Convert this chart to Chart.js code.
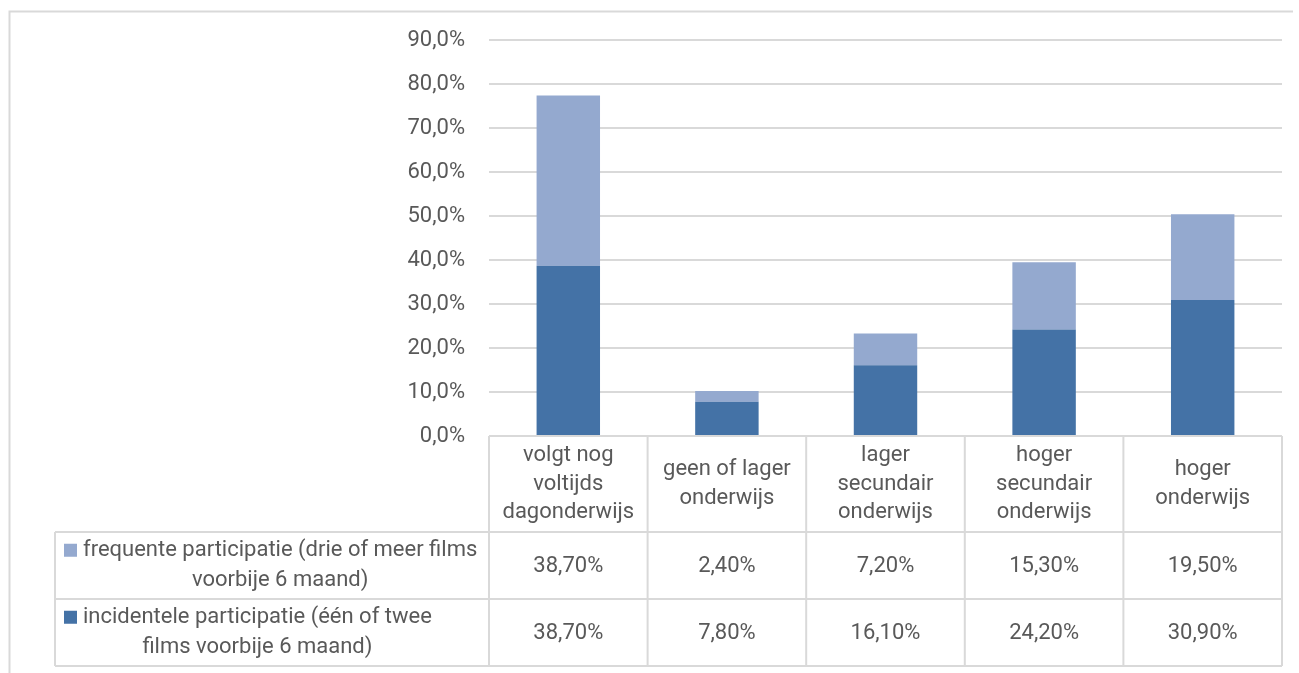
<!DOCTYPE html>
<html lang="nl">
<head>
  <meta charset="UTF-8">
  <title>Filmparticipatie naar onderwijs</title>
  <script src="https://cdn.jsdelivr.net/npm/chart.js"></script>
  <style>
    html, body {
      margin: 0;
      padding: 0;
      background: #ffffff;
    }
    #chart {
      display: block;
    }
  </style>
</head>
<body>
  <canvas id="chart" width="1299" height="673"></canvas>

  <script>
    // categorieen (met regelafbreking zoals in de tabel)
    const categories = [
      ['volgt nog', 'voltijds', 'dagonderwijs'],
      ['geen of lager', 'onderwijs'],
      ['lager', 'secundair', 'onderwijs'],
      ['hoger', 'secundair', 'onderwijs'],
      ['hoger', 'onderwijs']
    ];
    const incidenteel = [38.7, 7.8, 16.1, 24.2, 30.9];
    const frequent = [38.7, 2.4, 7.2, 15.3, 19.5];
    const seriesNames = [
      ['incidentele participatie (één of twee', 'films voorbije 6 maand)'],
      ['frequente participatie (drie of meer films', 'voorbije 6 maand)']
    ];
    const yTicks = [0, 10, 20, 30, 40, 50, 60, 70, 80, 90];

    const darkBlue = '#4472a6';
    const lightBlue = '#94a9cf';
    const textColor = '#595959';
    const lineColor = '#d9d9d9';
    const font = '22px Roboto';

    const fmtPct = v => v.toFixed(2).replace('.', ',') + '%';

    // rand rond de grafiek + datatabel onder de x-as
    const tablePlugin = {
      id: 'dataTable',
      beforeDraw(chart) {
        const ctx = chart.ctx;
        ctx.save();
        ctx.strokeStyle = lineColor;
        ctx.lineWidth = 2;
        ctx.beginPath();
        ctx.moveTo(9.5, 673);
        ctx.lineTo(9.5, 11.5);
        ctx.lineTo(1293, 11.5);
        ctx.stroke();
        ctx.restore();
      },
      afterDraw(chart) {
        const ctx = chart.ctx;
        const area = chart.chartArea;
        const xs = chart.scales.x;
        const n = categories.length;
        const colW = (area.right - area.left) / n;
        const top = area.bottom;
        const headBottom = top + 96;
        const rowH = 67;
        const tableLeft = 55;
        const rows = [
          { name: seriesNames[1], color: lightBlue, data: frequent },
          { name: seriesNames[0], color: darkBlue, data: incidenteel }
        ];
        const bottom = headBottom + rowH * rows.length;

        ctx.save();
        ctx.strokeStyle = lineColor;
        ctx.lineWidth = 2;
        ctx.beginPath();
        // horizontale lijnen
        ctx.moveTo(area.left, top);
        ctx.lineTo(area.right, top);
        for (let r = 0; r <= rows.length; r++) {
          const y = headBottom + r * rowH;
          ctx.moveTo(tableLeft, y);
          ctx.lineTo(area.right, y);
        }
        // verticale lijnen
        for (let i = 0; i <= n; i++) {
          const x = area.left + i * colW;
          ctx.moveTo(x, top);
          ctx.lineTo(x, bottom);
        }
        ctx.moveTo(tableLeft, headBottom);
        ctx.lineTo(tableLeft, bottom);
        ctx.stroke();

        ctx.fillStyle = textColor;
        ctx.font = font;
        ctx.textBaseline = 'middle';
        ctx.textAlign = 'center';

        // kolomkoppen
        const headLH = 28.5;
        categories.forEach((lines, i) => {
          const cx = xs.getPixelForValue(i);
          const cy = (top + headBottom) / 2;
          lines.forEach((ln, k) => {
            ctx.fillText(ln, cx, cy + (k - (lines.length - 1) / 2) * headLH);
          });
        });

        // rijen met legenda en waarden
        const rowLH = 29.5;
        rows.forEach((row, r) => {
          const y0 = headBottom + r * rowH;
          const cy = y0 + rowH / 2;
          const textLeft = 83;
          const maxW = Math.max(...row.name.map(s => ctx.measureText(s).width));
          row.name.forEach((ln, k) => {
            const ly = cy + (k - (row.name.length - 1) / 2) * rowLH;
            ctx.fillText(ln, textLeft + maxW / 2, ly);
            if (k === 0) {
              const w = ctx.measureText(ln).width;
              const sx = textLeft + maxW / 2 - w / 2 - 19;
              ctx.fillStyle = row.color;
              ctx.fillRect(sx, ly - 7, 13, 13);
              ctx.fillStyle = textColor;
            }
          });
          row.data.forEach((v, i) => {
            ctx.fillText(fmtPct(v), xs.getPixelForValue(i), cy + 1);
          });
        });
        ctx.restore();
      }
    };

    new Chart(document.getElementById('chart'), {
      type: 'bar',
      data: {
        labels: categories,
        datasets: [
          {
            label: seriesNames[0].join(' '),
            data: incidenteel,
            backgroundColor: darkBlue,
            barPercentage: 0.4,
            categoryPercentage: 1
          },
          {
            label: seriesNames[1].join(' '),
            data: frequent,
            backgroundColor: lightBlue,
            barPercentage: 0.4,
            categoryPercentage: 1
          }
        ]
      },
      plugins: [tablePlugin],
      options: {
        responsive: false,
        animation: false,
        devicePixelRatio: 1,
        layout: {
          padding: { left: 0, right: 17, top: 40, bottom: 237 }
        },
        plugins: {
          legend: { display: false },
          tooltip: { enabled: false }
        },
        scales: {
          x: {
            stacked: true,
            display: false
          },
          y: {
            stacked: true,
            min: 0,
            max: 90,
            afterFit(scale) { scale.width = 489; },
            afterBuildTicks(scale) { scale.ticks = yTicks.map(v => ({ value: v })); },
            border: { display: false },
            grid: {
              color: lineColor,
              lineWidth: 2,
              drawTicks: false
            },
            ticks: {
              padding: 24,
              color: textColor,
              font: { family: 'Roboto', size: 22 },
              callback: v => v.toFixed(1).replace('.', ',') + '%'
            }
          }
        }
      }
    });
  </script>
</body>
</html>
